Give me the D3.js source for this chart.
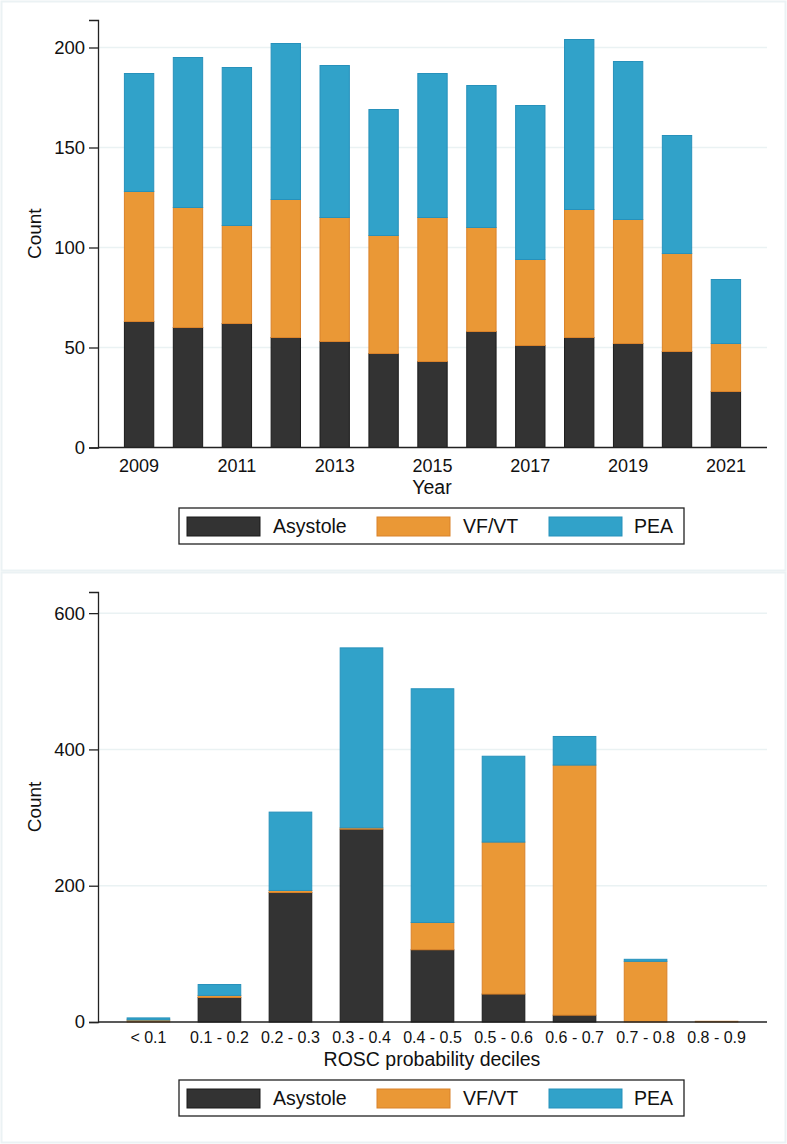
<!DOCTYPE html>
<html>
<head>
<meta charset="utf-8">
<script src="https://cdn.jsdelivr.net/npm/d3@7"></script>
<style>
  body { margin: 0; background: #fff; }
  svg { display: block; font-family: "Liberation Sans", Arial, sans-serif; }
</style>
</head>
<body>
<svg></svg>
<script>
const svgWidth = 787
const svgHeight = 1144

// top panel: arrests by year
const years = ["2009", "2010", "2011", "2012", "2013", "2014", "2015", "2016", "2017", "2018", "2019", "2020", "2021"]
const yearTicks = ["2009", "2011", "2013", "2015", "2017", "2019", "2021"]
const asystoleByYear = [63, 60, 62, 55, 53, 47, 43, 58, 51, 55, 52, 48, 28]
const vfvtByYear = [65, 60, 49, 69, 62, 59, 72, 52, 43, 64, 62, 49, 24]
const peaByYear = [59, 75, 79, 78, 76, 63, 72, 71, 77, 85, 79, 59, 32]
const yearYTicks = [0, 50, 100, 150, 200]

// bottom panel: ROSC probability deciles
const deciles = ["< 0.1", "0.1 - 0.2", "0.2 - 0.3", "0.3 - 0.4", "0.4 - 0.5", "0.5 - 0.6", "0.6 - 0.7", "0.7 - 0.8", "0.8 - 0.9"]
const asystoleByDecile = [0, 36, 190, 283, 106, 41, 10, 0, 0]
const vfvtByDecile = [3, 3, 3, 2, 40, 223, 367, 89, 1]
const peaByDecile = [3, 16, 115, 264, 343, 126, 42, 3, 0]
const decileYTicks = [0, 200, 400, 600]

const seriesNames = ["Asystole", "VF/VT", "PEA"]
const fills = ["#333333", "#ea9836", "#31a2c9"]
const strokes = ["#1a1a1a", "#d9822a", "#2791bb"]

const svg = d3.select("svg")
    .attr("width", svgWidth)
    .attr("height", svgHeight)

function drawPanel(opts) {
    const g = svg.append("g")

    // panel frame
    g.append("rect")
        .attr("x", 1.5)
        .attr("y", opts.top + 1.5)
        .attr("width", svgWidth - 3)
        .attr("height", opts.height - 3)
        .attr("fill", "#fff")
        .attr("stroke", "#ebf2f4")
        .attr("stroke-width", 2)

    const xScale = d3.scaleBand()
        .domain(opts.categories)
        .range([98, 767])
        .paddingInner(0.4)
        .paddingOuter(opts.outer)

    const yScale = d3.scaleLinear()
        .domain([0, opts.yMax])
        .range([opts.y0, opts.yTop])

    // gridlines
    g.selectAll(".grid")
        .data(opts.yTicks.filter((d) => d > 0))
        .join("line")
        .attr("x1", 98)
        .attr("x2", 767)
        .attr("y1", (d) => yScale(d))
        .attr("y2", (d) => yScale(d))
        .attr("stroke", "#eaf2f3")
        .attr("stroke-width", 1.5)

    const rows = opts.categories.map((c, i) => {
        return { key: c, Asystole: opts.series[0][i], "VF/VT": opts.series[1][i], PEA: opts.series[2][i] }
    })
    const stacked = d3.stack().keys(seriesNames)(rows)

    stacked.forEach((layer, index) => {
        g.selectAll(`.bar${index}`)
            .data(layer.filter((d) => d[1] > d[0]))
            .join("rect")
            .attr("class", `bar${index}`)
            .attr("x", (d) => xScale(d.data.key))
            .attr("width", xScale.bandwidth())
            .attr("y", (d) => yScale(d[1]))
            .attr("height", (d) => yScale(d[0]) - yScale(d[1]))
            .attr("fill", fills[index])
            .attr("stroke", strokes[index])
            .attr("stroke-width", 1)
    })

    // axes
    const yAxis = g.append("g")
        .attr("transform", "translate(98,0)")
        .call(d3.axisLeft(yScale).tickValues(opts.yTicks).tickSize(9).tickPadding(4))
    yAxis.select(".domain").attr("stroke", "#222").attr("stroke-width", 1.3)
    yAxis.selectAll(".tick line").attr("stroke", "#222").attr("stroke-width", 1.3)
    yAxis.selectAll("text").attr("font-size", 18.5).attr("fill", "#111")
        .attr("font-family", "Liberation Sans, Arial, sans-serif")

    const xAxis = g.append("g")
        .attr("transform", `translate(0,${opts.y0})`)
        .call(d3.axisBottom(xScale).tickValues(opts.xTicks).tickSize(0).tickPadding(opts.xPad))
    xAxis.select(".domain").attr("stroke", "#222").attr("stroke-width", 1.3)
        .attr("d", `M98,0H767`)
    xAxis.selectAll("text").attr("font-size", opts.xFont).attr("fill", "#111")
        .attr("font-family", "Liberation Sans, Arial, sans-serif")

    // axis titles
    g.append("text")
        .text("Count")
        .attr("transform", `translate(41,${(opts.y0 + opts.yTop) / 2}) rotate(-90)`)
        .attr("text-anchor", "middle")
        .attr("font-size", 19)
        .attr("fill", "#111")

    g.append("text")
        .text(opts.xTitle)
        .attr("x", 432)
        .attr("y", opts.xTitleY)
        .attr("text-anchor", "middle")
        .attr("font-size", 19.5)
        .attr("fill", "#111")

    // legend
    const ly = opts.legendTop
    g.append("rect")
        .attr("x", 179)
        .attr("y", ly)
        .attr("width", 505)
        .attr("height", 36)
        .attr("fill", "#fff")
        .attr("stroke", "#222")
        .attr("stroke-width", 1.3)

    const swatchX = [187, 377, 549]
    const labelX = [273, 463, 634]
    seriesNames.forEach((name, i) => {
        g.append("rect")
            .attr("x", swatchX[i])
            .attr("y", ly + 9)
            .attr("width", 73)
            .attr("height", 19)
            .attr("fill", fills[i])
            .attr("stroke", strokes[i])
            .attr("stroke-width", 1)
        g.append("text")
            .text(name)
            .attr("x", labelX[i])
            .attr("y", ly + 25)
            .attr("font-size", 19.5)
            .attr("fill", "#111")
    })
}

drawPanel({
    top: 0,
    height: 572,
    categories: years,
    xTicks: yearTicks,
    series: [asystoleByYear, vfvtByYear, peaByYear],
    yTicks: yearYTicks,
    yMax: 213.75,
    y0: 447.5,
    yTop: 20,
    outer: 0.54,
    xPad: 12,
    xFont: 18,
    xTitle: "Year",
    xTitleY: 494,
    legendTop: 508
})

drawPanel({
    top: 571,
    height: 573,
    categories: deciles,
    xTicks: deciles,
    series: [asystoleByDecile, vfvtByDecile, peaByDecile],
    yTicks: decileYTicks,
    yMax: 631,
    y0: 1022,
    yTop: 592,
    outer: 0.41,
    xPad: 10,
    xFont: 16,
    xTitle: "ROSC probability deciles",
    xTitleY: 1066,
    legendTop: 1080
})
</script>
</body>
</html>
